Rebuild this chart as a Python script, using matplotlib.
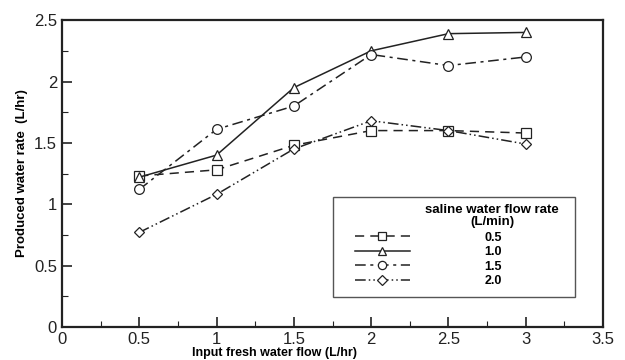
import numpy as np
import matplotlib.pyplot as plt
from matplotlib.ticker import MultipleLocator
from matplotlib.patches import Rectangle

plt.rcParams['font.family'] = ['Liberation Sans', 'DejaVu Sans']

# data
fresh_flow = [0.5, 1.0, 1.5, 2.0, 2.5, 3.0]
rate_05 = [1.23, 1.28, 1.48, 1.60, 1.60, 1.58]
rate_10 = [1.22, 1.40, 1.95, 2.25, 2.39, 2.40]
rate_15 = [1.12, 1.61, 1.80, 2.22, 2.13, 2.20]
rate_20 = [0.77, 1.08, 1.45, 1.68, 1.60, 1.49]
series_labels = ['0.5', '1.0', '1.5', '2.0']
x_ticks = [0, 0.5, 1, 1.5, 2, 2.5, 3, 3.5]
x_ticklabels = ['0', '0.5', '1', '1.5', '2', '2.5', '3', '3.5']
y_ticks = [0, 0.5, 1, 1.5, 2, 2.5]
y_ticklabels = ['0', '0.5', '1', '1.5', '2', '2.5']

fig = plt.figure(figsize=(6.25, 3.6), dpi=100)
ax = fig.add_axes([0.099, 0.092, 0.866, 0.852])

styles = [
    dict(marker='s', linestyle=(0, (6, 4)), markersize=6.5),
    dict(marker='^', linestyle='-', markersize=7),
    dict(marker='o', linestyle=(0, (7, 3, 2, 3)), markersize=7),
    dict(marker='D', linestyle=(0, (7, 2, 1, 2, 1, 2)), markersize=5.5),
]
for ys, lab, st in zip([rate_05, rate_10, rate_15, rate_20], series_labels, styles):
    kw = dict(color='#222222', lw=1.1, markerfacecolor='white',
              markeredgecolor='#222222', markeredgewidth=0.9)
    kw.update(st)
    ax.plot(fresh_flow, ys, label=lab, **kw)

ax.set_xlim(0, 3.5)
ax.set_ylim(0, 2.5)
ax.set_xticks(x_ticks)
ax.set_xticklabels(x_ticklabels)
ax.set_yticks(y_ticks)
ax.set_yticklabels(y_ticklabels)
ax.xaxis.set_minor_locator(MultipleLocator(0.25))
ax.yaxis.set_minor_locator(MultipleLocator(0.25))
ax.tick_params(which='both', direction='in', labelsize=12, colors='#222222',
               top=False, right=False)
ax.tick_params(which='major', length=7, width=1.2)
ax.tick_params(which='minor', length=4, width=0.8)
for sp in ax.spines.values():
    sp.set_linewidth(1.6)
    sp.set_color('#222222')

ax.set_xlabel('Input fresh water flow (L/hr)', fontsize=9, fontweight='bold')
ax.xaxis.set_label_coords(0.392, -0.065)
ax.set_ylabel('Produced water rate  (L/hr)', fontsize=9.5, fontweight='bold', labelpad=4)

# legend: frame, title and entries placed separately to match the original layout
ax.add_patch(Rectangle((0.501, 0.098), 0.447, 0.325, transform=ax.transAxes,
                       facecolor='white', edgecolor='#555555', lw=1.0, zorder=5))
ax.text(0.795, 0.36, 'saline water flow rate\n(L/min)', transform=ax.transAxes,
        ha='center', va='center', multialignment='center', fontsize=9.5,
        fontweight='bold', linespacing=1.0, zorder=6)
leg = ax.legend(loc='upper left', bbox_to_anchor=(0.541, 0.31), frameon=False,
                borderpad=0, borderaxespad=0, handlelength=4.4, handletextpad=6.0,
                labelspacing=0.2, markerscale=0.85, prop={'weight': 'bold', 'size': 9})
leg.set_zorder(7)

fig.savefig('out.png', dpi=100)
